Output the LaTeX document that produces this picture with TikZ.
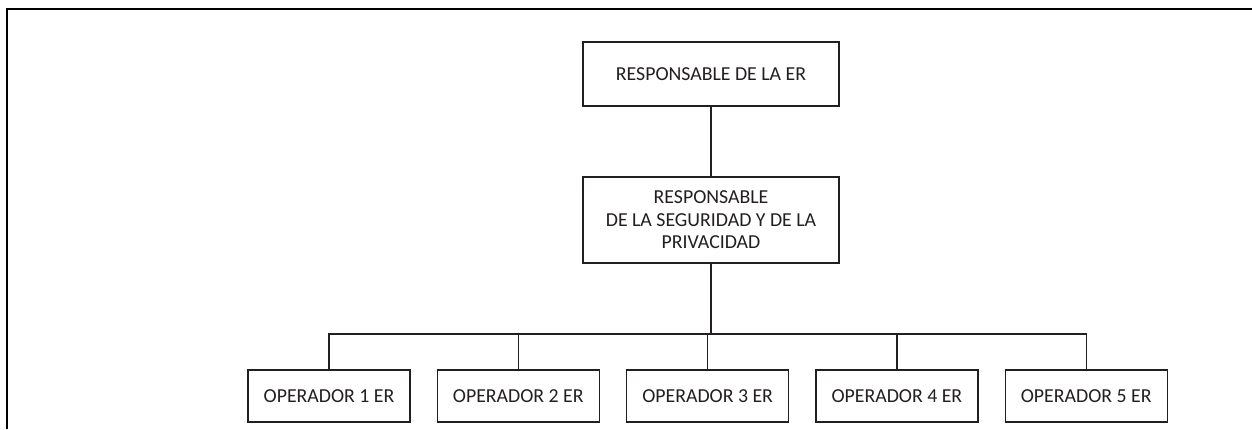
\documentclass[tikz,border=0pt]{standalone}
\usepackage{fontspec}
\setmainfont{Carlito}
\usetikzlibrary{positioning}
\definecolor{ink}{HTML}{231F20}

\begin{document}
\begin{tikzpicture}[
            x = 1pt, y = 1pt, % one unit per pixel
            node distance = 26pt, % gap between operator boxes
            line width = 1.3pt, % line style
            draw = ink
        ]

        \tikzstyle{box}=[
            draw = ink,
            text = ink,
            fill = white,
            align = center,
            inner sep = 0pt,
            font = \fontsize{19.8}{22.5}\selectfont
        ]
        \tikzstyle{oper}=[
            box,
            minimum width = 162pt,
            minimum height = 52pt
        ]

        \useasboundingbox (0,0) rectangle (1252,429);
        \draw[black, line width = 2pt] (7,0) -- (7,420) -- (1252,420);

        \node[box, minimum width = 256pt, minimum height = 64pt] (jefe) at (711,355) {RESPONSABLE DE LA ER};
        \node[box, minimum width = 256pt, minimum height = 86pt] (seg) at (711,209) {RESPONSABLE\\ DE LA SEGURIDAD Y DE LA\\ PRIVACIDAD};

        \node[oper] (op1) at (329,33) {OPERADOR 1 ER};
        \node[oper] (op2) [right=of op1] {OPERADOR 2 ER};
        \node[oper] (op3) [right=of op2] {OPERADOR 3 ER};
        \node[oper] (op4) [right=of op3] {OPERADOR 4 ER};
        \node[oper] (op5) [right=of op4] {OPERADOR 5 ER};

        \coordinate (bus) at (0,95);

        \draw (jefe) -- (seg);
        \draw (seg.south) -- (seg.south |- bus);
        \draw (op1.north) -- (op1.north |- bus) -- (op5.north |- bus) -- (op5.north);
        \foreach \i in {2,3,4}
            \draw (op\i.north) -- (op\i.north |- bus);
    \end{tikzpicture}
\end{document}
